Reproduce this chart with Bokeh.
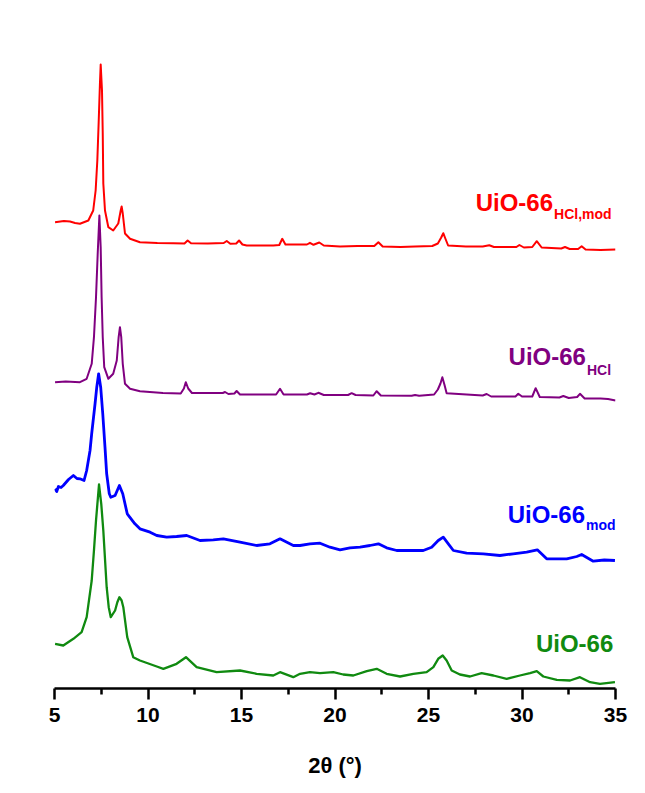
from bokeh.plotting import figure
from bokeh.models import Range1d, FixedTicker, Label
from bokeh.embed import file_html
from bokeh.resources import INLINE

# ---- data (2theta in degrees, stacked intensity in a.u.) ----
red_x = [5.03, 5.50, 5.83, 6.10, 6.36, 6.81, 7.07, 7.20, 7.29, 7.36, 7.43, 7.47, 7.54, 7.58, 7.61, 7.70,
         7.88, 8.14, 8.41, 8.54, 8.59, 8.65, 8.77, 9.04, 9.57, 10.5, 11.35, 11.95, 12.12, 12.30, 13.2,
         14.05, 14.21, 14.40, 14.72, 14.87, 15.05, 15.28, 16.70, 17.02, 17.18, 17.35, 18.50, 18.66, 18.85,
         19.16, 19.40, 20.27, 21.2, 22.10, 22.32, 22.55, 23.5, 24.28, 25.20, 25.50, 25.68, 25.79, 25.90,
         26.05, 27.00, 27.90, 28.25, 28.50, 29.70, 29.86, 30.10, 30.55, 30.79, 31.05, 32.10, 32.30, 32.55,
         33.00, 33.19, 33.40, 34.2, 35.00]
red_y = [464.3, 465.5, 465, 463.5, 462.7, 466, 476, 496, 526, 563, 603, 622, 596, 553, 503, 476,
         459.3, 456, 463, 476, 480, 473, 453, 447.7, 444.3, 443.5, 443.3, 443, 446, 443.3, 443,
         443.5, 445.5, 442.7, 443, 446, 442, 441, 441, 441.5, 447.7, 442, 442, 443.7, 441.7,
         444, 441, 440, 440.5, 440.5, 444.3, 440, 439.5, 440, 440.5, 443, 449, 453.3, 448,
         441, 440, 440, 441.3, 439.5, 439.5, 441.5, 439, 439.5, 445.3, 439, 438, 439.5, 437.5,
         437.5, 440.3, 437, 436.5, 437]

purple_x = [5.03, 5.6, 6.36, 6.72, 6.99, 7.11, 7.22, 7.31, 7.40, 7.47, 7.52, 7.58, 7.66, 7.88, 8.14, 8.33,
            8.43, 8.50, 8.57, 8.65, 8.77, 9.04, 9.57, 10.8, 11.75, 11.92, 12.02, 12.15, 12.35, 14.00,
            14.12, 14.30, 14.62, 14.74, 14.92, 16.85, 17.06, 17.25, 18.50, 18.67, 18.90, 19.11, 19.40,
            20.70, 20.89, 21.10, 22.05, 22.23, 22.45, 24.10, 24.28, 24.50, 25.30, 25.50, 25.64, 25.74,
            25.85, 25.97, 27.90, 28.11, 28.35, 29.65, 29.80, 30.00, 30.55, 30.73, 30.95, 32.00, 32.21,
            32.50, 32.95, 33.10, 33.35, 34.2, 34.6, 35.00]
purple_y = [304.3, 305, 304.3, 307.7, 322.7, 349.3, 389.3, 432.7, 471, 439.3, 389.3, 349.3, 319.3, 307.7, 312.7, 326,
            349.3, 359.3, 349.3, 322.7, 302.7, 297.7, 295.3, 293.5, 293, 298, 304.3, 298, 293.5, 293.5,
            294.5, 292.5, 293, 295.5, 292, 292, 297.7, 292, 292, 293.3, 292, 293.7, 291.5,
            291.5, 293.3, 291.5, 291, 295.3, 291, 290.7, 291.5, 290.7, 292, 297, 303, 309.3,
            302, 293.3, 291, 292.5, 290, 290, 292.7, 290, 290, 298.3, 289.5, 289, 290.5,
            288.5, 289.5, 292.7, 288, 288, 287.5, 286]

blue_x = [5.03, 5.12, 5.21, 5.35, 5.47, 5.75, 6.01, 6.20, 6.36, 6.58, 6.72, 6.90, 6.99, 7.17, 7.26, 7.36,
          7.47, 7.58, 7.70, 7.79, 7.93, 8.01, 8.24, 8.47, 8.65, 8.89, 9.30, 9.57, 10.11, 10.47, 11.00,
          11.53, 12.07, 12.78, 13.49, 14.03, 14.92, 15.81, 16.52, 17.06, 17.77, 18.13, 18.66, 19.20,
          19.73, 20.27, 20.80, 21.34, 21.87, 22.32, 22.76, 23.30, 24.01, 24.72, 25.17, 25.52, 25.79,
          26.06, 26.33, 27.04, 27.93, 28.82, 29.53, 30.25, 30.82, 31.32, 31.86, 32.39, 32.93, 33.19,
          33.81, 34.40, 34.97]
blue_y = [197.7, 195, 200, 199, 201, 207, 211, 208, 207.7, 206, 216, 236, 253, 283, 299.3, 312.7,
          299.3, 273, 239.3, 212.7, 192.7, 189.3, 191, 201, 192.7, 172.7, 162.7, 157.7, 154.3, 151, 149.3,
          150, 151, 146, 146.7, 147.7, 144.3, 141, 142.7, 147.7, 141, 141, 142.7, 143.3,
          139.3, 136.7, 138.7, 139.3, 141, 142.7, 138.7, 136, 136, 136, 139.3, 146, 149.3,
          142.7, 136, 133.3, 132.7, 131, 132.7, 134.3, 136.7, 127.7, 127.7, 127.7, 130, 132,
          125.3, 126.5, 126]

green_x = [5.03, 5.47, 6.01, 6.45, 6.72, 6.99, 7.11, 7.22, 7.38, 7.50, 7.61, 7.79, 7.90, 8.01, 8.24, 8.36,
           8.47, 8.59, 8.68, 8.89, 9.21, 9.57, 10.47, 10.82, 11.53, 12.03, 12.60, 13.67, 14.92, 15.81,
           16.70, 17.06, 17.77, 18.13, 18.66, 19.20, 19.91, 20.44, 20.98, 21.70, 22.23, 22.76, 23.48,
           24.19, 24.90, 25.26, 25.52, 25.76, 25.97, 26.24, 26.68, 27.22, 27.84, 28.47, 29.18, 29.89,
           30.43, 30.79, 31.14, 31.86, 32.57, 33.10, 33.64, 34.17, 34.97]
green_y = [42.7, 41, 47.7, 54.3, 69.3, 106, 136, 166, 202, 182.7, 156, 99.3, 79.3, 69.3, 76, 84.3,
           89.3, 86, 79.3, 49.3, 29.3, 26, 20, 17.7, 22.7, 29.3, 19.3, 14.3, 16, 12.7,
           11, 14.3, 9.3, 12.7, 14.3, 13.3, 14.3, 12, 11, 15.3, 17.7, 12.7, 10,
           12.7, 14.3, 19.3, 27.7, 31, 26, 16, 12, 10, 13.3, 11, 7.7, 11,
           13.3, 15.3, 10, 6.7, 6, 9.3, 4.3, 2.7, 4.3]

x_ticks = [5, 10, 15, 20, 25, 30, 35]
x_minor = [7.5, 12.5, 17.5, 22.5, 27.5, 32.5]

series = [
    (red_x, red_y, "#ff0000", 2.0),
    (purple_x, purple_y, "#800080", 2.0),
    (blue_x, blue_y, "#0000ff", 2.8),
    (green_x, green_y, "#108a10", 2.3),
]

p = figure(width=645, height=793, output_backend="svg", toolbar_location=None,
           x_range=Range1d(5, 35), y_range=Range1d(-2, 666),
           min_border_left=54, min_border_right=30, min_border_top=20, min_border_bottom=105)
p.yaxis.visible = False
p.grid.visible = False
p.outline_line_color = None
p.background_fill_color = "white"
p.border_fill_color = "white"

for xs, ys, c, w in series:
    p.line(xs, ys, line_color=c, line_width=w, line_join="round")

ax = p.xaxis[0]
ax.ticker = FixedTicker(ticks=x_ticks, minor_ticks=x_minor)
ax.axis_line_width = 2.5
ax.axis_line_color = "black"
ax.major_tick_line_width = 2.5
ax.minor_tick_line_width = 2.5
ax.major_tick_in = 0
ax.major_tick_out = 11
ax.minor_tick_in = 0
ax.minor_tick_out = 6
ax.major_label_text_font = "Liberation Sans"
ax.major_label_text_font_style = "bold"
ax.major_label_text_font_size = "21px"
ax.major_label_text_color = "black"
ax.major_label_standoff = 8
ax.axis_label = "2θ (°)"
ax.axis_label_text_font = "Liberation Sans"
ax.axis_label_text_font_style = "bold"
ax.axis_label_text_font_size = "22px"
ax.axis_label_text_color = "black"
ax.axis_label_standoff = 28

labels = [
    ("UiO-66", "HCl,mod", 31.66, 484.3, 473.0, "#ff0000"),
    ("UiO-66", "HCl", 33.42, 330.0, 316.7, "#800080"),
    ("UiO-66", "mod", 33.37, 172.0, 162.0, "#0000ff"),
    ("UiO-66", "", 34.88, 43.3, 43.3, "#108a10"),
]
for main, sub, xe, yb, ys, c in labels:
    p.add_layout(Label(x=xe, y=yb, text=main, text_align="right", text_baseline="alphabetic",
                       text_font="Liberation Sans", text_font_style="bold", text_font_size="24px",
                       text_color=c))
    if sub:
        p.add_layout(Label(x=xe, y=ys, x_offset=1, text=sub, text_align="left", text_baseline="alphabetic",
                           text_font="Liberation Sans", text_font_style="bold", text_font_size="14px",
                           text_color=c))

open("out.html", "w").write(file_html(p, INLINE))
